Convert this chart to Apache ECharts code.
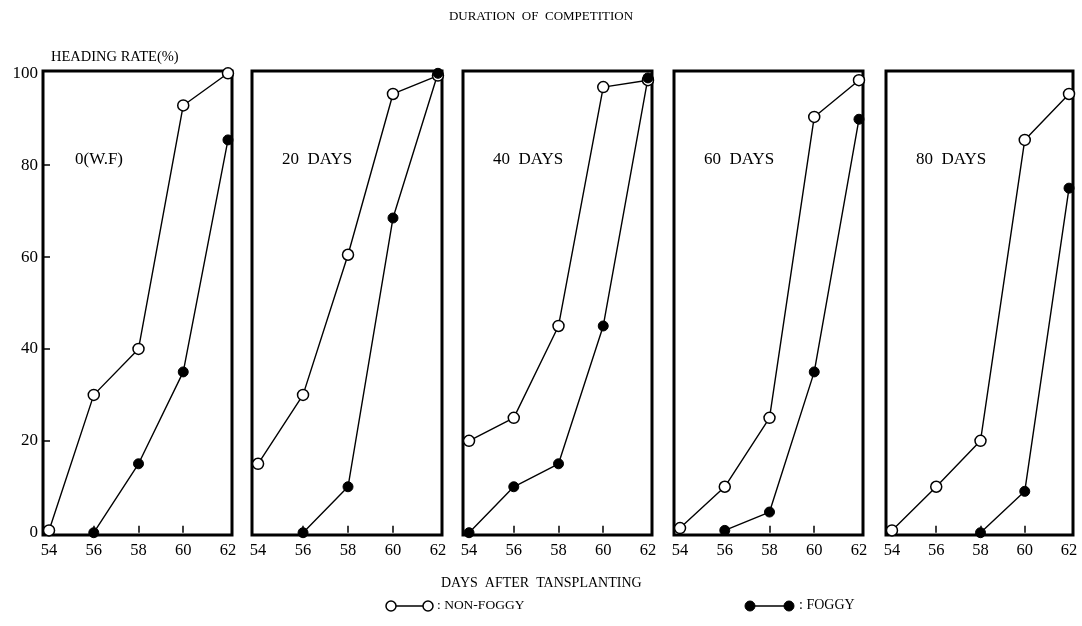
<!DOCTYPE html>
<html>
<head>
<meta charset="utf-8">
<script src="https://cdn.jsdelivr.net/npm/echarts@6/dist/echarts.min.js"></script>
<style>html,body{margin:0;padding:0;background:#fff;}#c{width:1082px;height:626px;}</style>
</head>
<body>
<div id="c"></div>
<script>
const days = [54, 56, 58, 60, 62];
const panelLabels = ['0(W.F)', '20  DAYS', '40  DAYS', '60  DAYS', '80  DAYS'];
const xTickLabels = [54, 56, 58, 60, 62];
const yTickLabels = [0, 20, 40, 60, 80, 100];
const nonFoggy0 = [0.5, 30, 40, 93, 100];
const nonFoggy20 = [15, 30, 60.5, 95.5, 99.5];
const nonFoggy40 = [20, 25, 45, 97, 98.5];
const nonFoggy60 = [1, 10, 25, 90.5, 98.5];
const nonFoggy80 = [0.5, 10, 20, 85.5, 95.5];
const foggy0 = [null, 0, 15, 35, 85.5];
const foggy20 = [null, 0, 10, 68.5, 100];
const foggy40 = [0, 10, 15, 45, 99];
const foggy60 = [null, 0.5, 4.5, 35, 90];
const foggy80 = [null, null, 0, 9, 75];

const nonFoggy = [nonFoggy0, nonFoggy20, nonFoggy40, nonFoggy60, nonFoggy80];
const foggy = [foggy0, foggy20, foggy40, foggy60, foggy80];

const FONT = 'Liberation Serif';
const lefts = [43, 252, 463, 674, 886];
const widths = [189, 190, 189, 189, 187];

const pairs = arr => days.map((d, i) => [d, arr[i]]).filter(p => p[1] !== null);

const grids = [], xAxes = [], yAxes = [], series = [], titles = [];
for (let k = 0; k < 5; k++) {
  grids.push({ left: lefts[k], top: 71, width: widths[k], height: 464, show: true, borderColor: '#000', borderWidth: 3, backgroundColor: 'transparent' });
  xAxes.push({
    type: 'value', gridIndex: k, min: 53.73, max: 62.18,
    axisLine: { show: false }, splitLine: { show: false },
    axisTick: { show: true, inside: true, length: 7, customValues: [56, 58, 60], lineStyle: { color: '#000', width: 1.5 } },
    axisLabel: { show: true, customValues: xTickLabels, color: '#000', fontFamily: FONT, fontSize: 16.5, margin: 7 }
  });
  yAxes.push({
    type: 'value', gridIndex: k, min: -0.5, max: 100.5,
    axisLine: { show: false }, splitLine: { show: false },
    axisTick: { show: k === 0, inside: true, length: 7, customValues: [20, 40, 60, 80], lineStyle: { color: '#000', width: 1.5 } },
    axisLabel: { show: k === 0, customValues: yTickLabels, color: '#000', fontFamily: FONT, fontSize: 17, margin: 5 }
  });
  series.push({
    name: 'NON-FOGGY', type: 'line', xAxisIndex: k, yAxisIndex: k, data: pairs(nonFoggy[k]),
    symbol: 'circle', symbolSize: 11, clip: false,
    lineStyle: { color: '#000', width: 1.4 },
    itemStyle: { color: '#fff', borderColor: '#000', borderWidth: 1.5 }, z: 3
  });
  series.push({
    name: 'FOGGY', type: 'line', xAxisIndex: k, yAxisIndex: k, data: pairs(foggy[k]),
    symbol: 'circle', symbolSize: 10, clip: false,
    lineStyle: { color: '#000', width: 1.4 },
    itemStyle: { color: '#000', borderColor: '#000', borderWidth: 1 }, z: 3
  });
  titles.push({ text: panelLabels[k], left: lefts[k] + (k === 0 ? 27 : 25), top: 146, textStyle: { fontFamily: FONT, fontSize: 17, fontWeight: 'normal', color: '#000' } });
}
titles.push({ text: 'DURATION  OF  COMPETITION', left: 'center', top: 5, textStyle: { fontFamily: FONT, fontSize: 13, fontWeight: 'normal', color: '#000' } });
titles.push({ text: 'HEADING RATE(%)', left: 46, top: 45, textStyle: { fontFamily: FONT, fontSize: 14.5, fontWeight: 'normal', color: '#000' } });
titles.push({ text: 'DAYS  AFTER  TANSPLANTING', left: 436, top: 571, textStyle: { fontFamily: FONT, fontSize: 14, fontWeight: 'normal', color: '#000' } });

const legendGraphic = [
  { type: 'line', shape: { x1: 391, y1: 606, x2: 428, y2: 606 }, style: { stroke: '#000', lineWidth: 1.5 } },
  { type: 'circle', shape: { cx: 391, cy: 606, r: 5 }, style: { fill: '#fff', stroke: '#000', lineWidth: 1.5 } },
  { type: 'circle', shape: { cx: 428, cy: 606, r: 5 }, style: { fill: '#fff', stroke: '#000', lineWidth: 1.5 } },
  { type: 'text', left: 437, top: 598, style: { text: ': NON-FOGGY', fontFamily: FONT, fontSize: 13.5, fill: '#000' } },
  { type: 'line', shape: { x1: 750, y1: 606, x2: 789, y2: 606 }, style: { stroke: '#000', lineWidth: 1.5 } },
  { type: 'circle', shape: { cx: 750, cy: 606, r: 5 }, style: { fill: '#000', stroke: '#000', lineWidth: 1 } },
  { type: 'circle', shape: { cx: 789, cy: 606, r: 5 }, style: { fill: '#000', stroke: '#000', lineWidth: 1 } },
  { type: 'text', left: 799, top: 598, style: { text: ': FOGGY', fontFamily: FONT, fontSize: 14, fill: '#000' } }
];

const chart = echarts.init(document.getElementById('c'));
chart.setOption({
  animation: false,
  backgroundColor: '#fff',
  title: titles,
  grid: grids,
  xAxis: xAxes,
  yAxis: yAxes,
  series: series,
  graphic: legendGraphic
});
</script>
</body>
</html>
